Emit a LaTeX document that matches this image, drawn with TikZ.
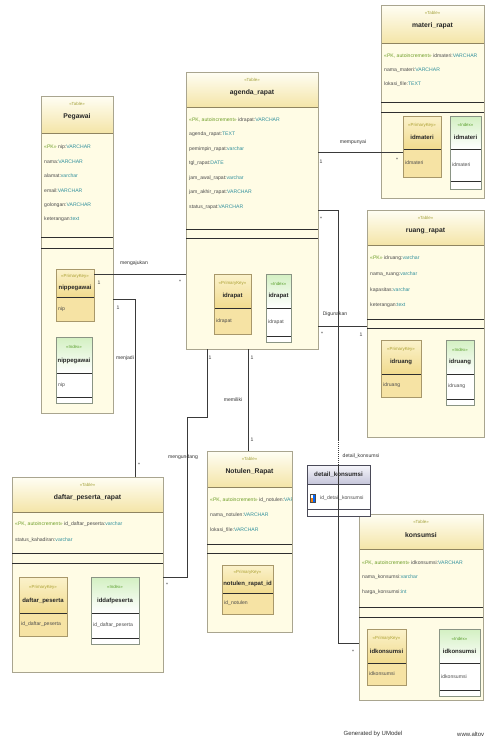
\documentclass[tikz,border=0pt]{standalone}
\usepackage{fontspec}
\setmainfont{Liberation Sans}
\definecolor{tabedge}{HTML}{A9A58F}
\definecolor{tabbody}{HTML}{FFFCE5}
\definecolor{hdrtop}{HTML}{FFFEF4}
\definecolor{hdrbot}{HTML}{F4E5A8}
\definecolor{hdrline}{HTML}{8F8460}
\definecolor{seccol}{HTML}{2E2E2E}
\definecolor{stereocol}{HTML}{A4A23C}
\definecolor{titlecol}{HTML}{262626}
\definecolor{attrcol}{HTML}{4C4C4C}
\definecolor{typecol}{HTML}{2F8F9C}
\definecolor{pkcol}{HTML}{6E9E28}
\definecolor{pktop}{HTML}{FBF2CB}
\definecolor{pkbot}{HTML}{F1DB8E}
\definecolor{pkbody}{HTML}{F6E3A4}
\definecolor{pkedge}{HTML}{A8986A}
\definecolor{pkster}{HTML}{ABA032}
\definecolor{ixtop}{HTML}{D3F0C2}
\definecolor{ixedge}{HTML}{8A9484}
\definecolor{ixster}{HTML}{5AA02C}
\definecolor{conncol}{HTML}{3A3A3A}
\definecolor{lblcol}{HTML}{333333}
\definecolor{dktop}{HTML}{F6F6FB}
\definecolor{dkbot}{HTML}{C5C5DA}
\definecolor{dkedge}{HTML}{4A4A58}
\newcommand\tyc[1]{\textcolor{typecol}{#1}}
\newcommand\pkc[1]{\textcolor{pkcol}{#1}}
\tikzset{
  tabbox/.style={draw=tabedge, line width=0.6pt, fill=tabbody, inner sep=0pt, outer sep=0pt},
  keyframe/.style={line width=0.5pt, inner sep=0pt, outer sep=0pt},
  stereo/.style={font=\fontsize{4.4}{5}\selectfont, text=stereocol, inner sep=0pt},
  ttl/.style={font=\fontsize{6.8}{8}\selectfont\bfseries, text=titlecol, inner sep=0pt},
  attr/.style={font=\fontsize{5.1}{6}\selectfont, text=attrcol, inner sep=0pt, anchor=west},
  keyname/.style={font=\fontsize{6}{7}\selectfont\bfseries, text=titlecol, inner sep=0pt},
  lbl/.style={font=\fontsize{5.1}{6}\selectfont, text=lblcol, inner sep=0pt},
  conn/.style={draw=conncol, line width=0.6pt},
  secline/.style={draw=seccol, line width=0.7pt},
  foot/.style={font=\fontsize{6}{7}\selectfont, text=lblcol, inner sep=0pt},
}
% table frame: name x1 y1 x2 y2 headerbottom title
\newcommand\umltab[7]{%
  \node[tabbox, anchor=north west, minimum width={(#4-#2)*1pt}, minimum height={(#5-#3)*1pt}] (#1) at (#2,#3) {};
  \shade[top color=hdrtop, bottom color=hdrbot] (#2,#3) rectangle (#4,#6);
  \draw[draw=hdrline, line width=0.7pt] (#2,#6) -- (#4,#6);
  \draw[draw=tabedge, line width=0.6pt] (#1.north west) rectangle (#1.south east);
  \node[stereo] (#1-st) at ({(#2+#4)/2},#3+8) {«Table»};
  \node[ttl] (#1-ti) at ({(#2+#4)/2},#3+21) {#7};
}
% two section lines: x1 x2 s1 s2
\newcommand\seclines[4]{%
  \draw[secline] (#1,#3) -- (#2,#3) (#1,#4) -- (#2,#4);
}
% primary key box: name x1 y1 x2 hl y2 key attr
\newcommand\pkbox[8]{%
  \node[keyframe, draw=pkedge, fill=pkbody, anchor=north west, minimum width={(#4-#2)*1pt}, minimum height={(#6-#3)*1pt}] (#1) at (#2,#3) {};
  \shade[top color=pktop, bottom color=pkbot] (#2,#3) rectangle (#4,#5);
  \draw[draw=seccol, line width=0.6pt] (#2,#5) -- (#4,#5);
  \draw[draw=pkedge, line width=0.5pt] (#2,#3) rectangle (#4,#6);
  \node[stereo, text=pkster] (#1-st) at ({(#2+#4)/2},{#3+(#5-#3)*0.28}) {«PrimaryKey»};
  \node[keyname] (#1-k) at ({(#2+#4)/2},{#3+(#5-#3)*0.66}) {#7};
  \node[attr] (#1-a) at (#2+2,{(#5+#6)/2}) {#8};
}
% index box: name x1 y1 x2 hl hl2 y2 key attr
\newcommand\ixbox[9]{%
  \node[keyframe, draw=ixedge, fill=white, anchor=north west, minimum width={(#4-#2)*1pt}, minimum height={(#7-#3)*1pt}] (#1) at (#2,#3) {};
  \shade[top color=ixtop, bottom color=white] (#2,#3) rectangle (#4,#5);
  \draw[draw=seccol, line width=0.6pt] (#2,#5) -- (#4,#5) (#2,#6) -- (#4,#6);
  \draw[draw=ixedge, line width=0.5pt] (#2,#3) rectangle (#4,#7);
  \node[stereo, text=ixster] (#1-st) at ({(#2+#4)/2},{#3+(#5-#3)*0.28}) {«Index»};
  \node[keyname] (#1-k) at ({(#2+#4)/2},{#3+(#5-#3)*0.66}) {#8};
  \node[attr] (#1-a) at (#2+2,{(#5+#6)/2}) {#9};
}
\begin{document}
\begin{tikzpicture}[x=1pt,y=-1pt]
\fill[white] (0,0) rectangle (486,744);
\useasboundingbox (0,0) rectangle (486,744);

% ---------------- Pegawai
\umltab{pg}{41}{96}{113}{413}{133}{Pegawai}
\node[attr] (pg-a1) at (44,147) {\pkc{«PK»} nip:\tyc{VARCHAR}};
\node[attr] (pg-a2) at (44,161.5) {nama:\tyc{VARCHAR}};
\node[attr] (pg-a3) at (44,176) {alamat:\tyc{varchar}};
\node[attr] (pg-a4) at (44,190.5) {email:\tyc{VARCHAR}};
\node[attr] (pg-a5) at (44,205) {golongan:\tyc{VARCHAR}};
\node[attr] (pg-a6) at (44,219.5) {keterangan:\tyc{text}};
\seclines{41}{113}{237}{248}
\pkbox{pgk}{56}{269}{94}{297}{321}{nippegawai}{nip}
\ixbox{pgi}{56}{337}{92}{373}{397}{403}{nippegawai}{nip}

% ---------------- agenda_rapat
\umltab{ag}{186}{72}{318}{349}{107}{agenda\_rapat}
\node[attr] (ag-a1) at (189,120) {\pkc{«PK, autoincrement»} idrapat:\tyc{VARCHAR}};
\node[attr] (ag-a2) at (189,134.5) {agenda\_rapat:\tyc{TEXT}};
\node[attr] (ag-a3) at (189,149) {pemimpin\_rapat:\tyc{varchar}};
\node[attr] (ag-a4) at (189,163.5) {tgl\_rapat:\tyc{DATE}};
\node[attr] (ag-a5) at (189,178) {jam\_awal\_rapat:\tyc{varchar}};
\node[attr] (ag-a6) at (189,192.5) {jam\_akhir\_rapat:\tyc{VARCHAR}};
\node[attr] (ag-a7) at (189,207) {status\_rapat:\tyc{VARCHAR}};
\seclines{186}{318}{229}{238}
\pkbox{agk}{214}{274}{251}{308}{334}{idrapat}{idrapat}
\ixbox{agi}{266}{274}{291}{308}{336}{342}{idrapat}{idrapat}

% ---------------- materi_rapat
\umltab{mt}{381}{5}{484}{198}{43}{materi\_rapat}
\node[attr] (mt-a1) at (384,56) {\pkc{«PK, autoincrement»} idmateri:\tyc{VARCHAR}};
\node[attr] (mt-a2) at (384,70) {nama\_materi:\tyc{VARCHAR}};
\node[attr] (mt-a3) at (384,84) {lokasi\_file:\tyc{TEXT}};
\seclines{381}{484}{102}{112}
\pkbox{mtk}{403}{116}{441}{149}{177}{idmateri}{idmateri}
\ixbox{mti}{450}{116}{481}{149}{181}{189}{idmateri}{idmateri}

% ---------------- ruang_rapat
\umltab{rg}{367}{210}{484}{437}{245}{ruang\_rapat}
\node[attr] (rg-a1) at (370,258) {\pkc{«PK»} idruang:\tyc{varchar}};
\node[attr] (rg-a2) at (370,274) {nama\_ruang:\tyc{varchar}};
\node[attr] (rg-a3) at (370,290) {kapasitas:\tyc{varchar}};
\node[attr] (rg-a4) at (370,305) {keterangan:\tyc{text}};
\seclines{367}{484}{319}{328}
\pkbox{rgk}{381}{340}{421}{374}{397}{idruang}{idruang}
\ixbox{rgi}{446}{340}{474}{374}{399}{405}{idruang}{idruang}

% ---------------- daftar_peserta_rapat
\umltab{dp}{12}{477}{163}{672}{512}{daftar\_peserta\_rapat}
\node[attr] (dp-a1) at (15,524) {\pkc{«PK, autoincrement»} id\_daftar\_peserta:\tyc{varchar}};
\node[attr] (dp-a2) at (15,540) {status\_kahadiran:\tyc{varchar}};
\seclines{12}{163}{553}{563}
\pkbox{dpk}{19}{577}{67}{613}{636}{daftar\_peserta}{id\_daftar\_peserta}
\ixbox{dpi}{91}{577}{139}{613}{638}{644}{iddafpeserta}{id\_daftar\_peserta}

% ---------------- Notulen_Rapat
\umltab{nt}{207}{451}{292}{632}{487}{Notulen\_Rapat}
\begin{scope}
\clip (207,490) rectangle (291.6,540);
\node[attr] (nt-a1) at (210,500) {\pkc{«PK, autoincrement»} id\_notulen:\tyc{VARCHAR}};
\end{scope}
\node[attr] (nt-a2) at (210,515) {nama\_notulen:\tyc{VARCHAR}};
\node[attr] (nt-a3) at (210,530) {lokasi\_file:\tyc{VARCHAR}};
\seclines{207}{292}{544}{553}
\pkbox{ntk}{222}{565}{273}{593}{614}{notulen\_rapat\_id}{id\_notulen}

% ---------------- konsumsi
\umltab{ks}{359}{514}{483}{700}{549}{konsumsi}
\node[attr] (ks-a1) at (362,563) {\pkc{«PK, autoincrement»} idkonsumsi:\tyc{VARCHAR}};
\node[attr] (ks-a2) at (362,577) {nama\_konsumsi:\tyc{varchar}};
\node[attr] (ks-a3) at (362,592) {harga\_konsumsi:\tyc{int}};
\seclines{359}{483}{607}{617}
\pkbox{ksk}{367}{629}{406}{663}{685}{idkonsumsi}{idkonsumsi}
\ixbox{ksi}{439}{629}{480}{663}{690}{696}{idkonsumsi}{idkonsumsi}

% ---------------- detail_konsumsi (association class)
\node[keyframe, draw=dkedge, fill=white, anchor=north west, minimum width=63pt, minimum height=51pt] (dk) at (307,465) {};
\shade[top color=dktop, bottom color=dkbot] (307,465) rectangle (370,484);
\draw[draw=dkedge, line width=0.6pt] (307,484) -- (370,484) (307,509) -- (370,509);
\draw[draw=dkedge, line width=0.6pt] (307,465) rectangle (370,516);
\node[keyname, font=\fontsize{6.2}{7}\selectfont\bfseries] (dk-ti) at (338.5,474.5) {detail\_konsumsi};
\fill[fill=white, draw=black!70, line width=0.3pt] (310,494) rectangle (315,502);
\fill[fill=blue!60!cyan] (313,494.5) rectangle (314.6,501.5);
\fill[fill=orange!80!brown] (310.6,498) rectangle (312.6,501.5);
\node[attr] (dk-a1) at (320,498) {id\_detail\_konsumsi};

% ---------------- connectors
% mengajukan
\coordinate (mj) at (150,274);
\draw[conn] (pgk.east |- mj) -- (ag.west |- mj);
\node[lbl] (mj-l) at (134,263) {mengajukan};
\node[lbl] (mj-1) at (99,283) {1};
\node[lbl] (mj-s) at (180,282) {*};
% menjadi
\coordinate (j1) at (135,299);
\draw[conn] (pg.east |- j1) -- (j1) -- (dp.north -| j1);
\node[lbl] (j-l) at (125,358) {menjadi};
\node[lbl] (j-1) at (118,308) {1};
\node[lbl] (j-s) at (139,465) {*};
% mengundang
\coordinate (u1) at (207,417);
\coordinate (u2) at (187,577);
\draw[conn] (ag.south -| u1) -- (u1) -- (u1 -| u2) -- (u2) -- (dp.east |- u2);
\node[lbl] (u-l) at (183,457) {mengundang};
\node[lbl] (u-1) at (210,358) {1};
\node[lbl] (u-s) at (167,585) {*};
% memiliki
\coordinate (mm) at (248,400);
\draw[conn] (ag.south -| mm) -- (nt.north -| mm);
\node[lbl] (mm-l) at (233,400) {memiliki};
\node[lbl] (mm-1) at (252,358) {1};
\node[lbl] (mm-2) at (252,440) {1};
% mempunyai
\coordinate (mp) at (350,152);
\draw[conn] (ag.east |- mp) -- (mtk.west |- mp);
\node[lbl] (mp-l) at (353,142) {mempunyai};
\node[lbl] (mp-1) at (321,162) {1};
\node[lbl] (mp-s) at (397,160) {*};
% Digunakan
\coordinate (dg) at (340,326);
\draw[conn] (ag.east |- dg) -- (rg.west |- dg);
\node[lbl] (dg-l) at (335,314) {Digunakan};
\node[lbl] (dg-s) at (322,334) {*};
\node[lbl] (dg-1) at (361,335) {1};
% agenda -- konsumsi with association class detail_konsumsi
\coordinate (k1) at (338,210);
\coordinate (k3) at (338,440);
\coordinate (k2) at (338,643);
\draw[conn] (ag.east |- k1) -- (k1) -- (k3);
\draw[conn, dash pattern=on 1pt off 1pt] (k3) -- (dk.north -| k3);
\draw[conn] (dk.north -| k3) -- (k2) -- (ks.west |- k2);
\node[lbl] (k-l) at (361,456) {detail\_konsumsi};
\node[lbl] (k-s1) at (321,219) {*};
\node[lbl] (k-s2) at (353,652) {*};

% ---------------- footer
\node[foot] (gen) at (373,734) {Generated by UModel};
\node[foot, anchor=west] (www) at (457,734) {www.altov};
\end{tikzpicture}
\end{document}
